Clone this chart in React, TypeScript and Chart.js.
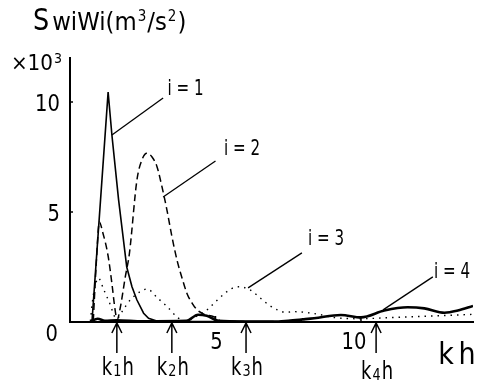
import React, { useEffect, useRef } from "react";
import { Chart, registerables } from "chart.js";
Chart.register(...registerables);

// ---- data (x in kh, y in x10^3 m^3/s^2) ----
const i1X = [0.7, 0.76, 1.31, 1.44, 1.67, 1.95, 2.13, 2.3, 2.53, 2.7, 2.98, 3.5, 5.0, 7.0];
const i1Y = [0.02, 0.1, 10.45, 8.5, 5.55, 2.5, 1.6, 1.0, 0.4, 0.17, 0.05, 0.03, 0.02, 0.02];

const i2X = [0.8, 0.9, 1.01, 1.12, 1.31, 1.44, 1.55, 1.62, 1.72, 1.9, 2.04, 2.3, 2.47, 2.64, 2.82, 2.99, 3.16, 3.33, 3.5, 3.68, 3.85, 4.02, 4.2, 4.37, 4.6, 4.94, 5.2, 6.0];
const i2Y = [0.05, 2.6, 4.55, 4.1, 3.0, 1.75, 0.55, 0.1, 0.6, 2.05, 3.1, 6.45, 7.36, 7.67, 7.5, 7.06, 6.15, 5.1, 3.9, 2.8, 2.0, 1.3, 0.85, 0.55, 0.36, 0.24, 0.05, 0.02];

const i3X = [0.7, 0.8, 0.98, 1.15, 1.35, 1.6, 1.85, 2.07, 2.41, 2.65, 3.0, 3.34, 3.7, 4.0, 4.4, 4.71, 5.0, 5.29, 5.57, 5.8, 6.2, 6.55, 6.84, 7.13, 7.41, 7.7, 8.2, 8.5, 9.1, 10.0, 11.0, 12.0, 13.0, 13.85];
const i3Y = [0.05, 1.2, 2.0, 1.5, 0.9, 0.15, 0.6, 1.0, 1.38, 1.5, 1.1, 0.7, 0.2, 0.05, 0.3, 0.55, 0.92, 1.27, 1.53, 1.6, 1.45, 1.08, 0.77, 0.55, 0.44, 0.47, 0.42, 0.36, 0.2, 0.15, 0.2, 0.25, 0.3, 0.35];

const i4X = [0.7, 0.95, 1.2, 1.6, 2.5, 4.0, 4.4, 4.7, 5.1, 6.0, 7.0, 7.5, 8.0, 8.39, 9.31, 10.0, 10.8, 11.6, 12.18, 12.87, 13.33, 13.85];
const i4Y = [0.02, 0.15, 0.05, 0.08, 0.03, 0.05, 0.33, 0.28, 0.05, 0.02, 0.02, 0.06, 0.12, 0.17, 0.32, 0.21, 0.52, 0.67, 0.62, 0.42, 0.52, 0.73];

const xTickValues = [5, 10];
const xTickLabels = ["5", "10"];
const yTickValues = [10, 5];
const yTickLabels = ["10", "5"];
const originLabel = "0";

const seriesNames = ["i = 1", "i = 2", "i = 3", "i = 4"];
// label anchor [x, y] and leader line [x1, y1, x2, y2] in data units
const labelPos = [[3.97, 10.55], [5.91, 7.86], [8.8, 3.73], [13.13, 2.23]];
const leaderLines = [
  [3.2, 10.18, 1.44, 8.5],
  [5.0, 7.32, 3.2, 5.68],
  [7.97, 3.14, 6.12, 1.55],
  [12.47, 2.05, 10.76, 0.55],
];

const kValues = [1.61, 3.5, 6.05, 10.52];
const kSubscripts = ["1", "2", "3", "4"];

const X_MAX = 13.85;
const Y_MAX = 12;

const FONT = "'DejaVu Sans', sans-serif";

function pts(xs: number[], ys: number[]) {
  return xs.map((x, i) => ({ x, y: ys[i] }));
}

function txt(
  ctx: CanvasRenderingContext2D,
  s: string,
  x: number,
  y: number,
  size: number,
  align: "left" | "center" | "right",
  sx: number,
  baseline: CanvasTextBaseline = "middle"
) {
  ctx.save();
  ctx.font = `${size}px ${FONT}`;
  ctx.textBaseline = baseline;
  ctx.textAlign = "left";
  const w = ctx.measureText(s).width * sx;
  const left = align === "left" ? x : align === "center" ? x - w / 2 : x - w;
  ctx.translate(left, y);
  ctx.scale(sx, 1);
  ctx.fillText(s, 0, 0);
  ctx.restore();
  return w;
}

function measure(ctx: CanvasRenderingContext2D, s: string, size: number, sx: number) {
  ctx.save();
  ctx.font = `${size}px ${FONT}`;
  const w = ctx.measureText(s).width * sx;
  ctx.restore();
  return w;
}

const overlay = {
  id: "overlay",
  afterDraw(chart: any) {
    const ctx = chart.ctx as CanvasRenderingContext2D;
    const xs = chart.scales.x;
    const ys = chart.scales.y;
    const X = (v: number) => xs.getPixelForValue(v);
    const Y = (v: number) => ys.getPixelForValue(v);
    const area = chart.chartArea;
    ctx.save();
    ctx.fillStyle = "#000";
    ctx.strokeStyle = "#000";

    // axis ticks (inward)
    ctx.lineWidth = 1.5;
    xTickValues.forEach((v) => {
      ctx.beginPath();
      ctx.moveTo(X(v), area.bottom);
      ctx.lineTo(X(v), area.bottom - 6);
      ctx.stroke();
    });
    yTickValues.forEach((v) => {
      ctx.beginPath();
      ctx.moveTo(area.left, Y(v));
      ctx.lineTo(area.left + 3, Y(v));
      ctx.stroke();
    });

    // tick labels
    yTickValues.forEach((v, i) => {
      txt(ctx, yTickLabels[i], area.left - 10, Y(v) + 3, 23, "right", 0.85);
    });
    txt(ctx, originLabel, area.left - 12, Y(0) + 13, 23, "right", 0.85);
    xTickValues.forEach((v, i) => {
      const off = xTickLabels[i].length > 1 ? -7 : 1;
      txt(ctx, xTickLabels[i], X(v) + off, area.bottom + 21, 23, "center", 0.85);
    });

    // exponent label
    const ew = txt(ctx, "×10", area.left - 17, area.top + 7, 21, "right", 0.95);
    txt(ctx, "3", area.left - 16, area.top + 1, 14, "left", 0.9);

    // y title
    let tx = 33;
    tx += txt(ctx, "S", tx, 30, 30, "left", 0.85, "alphabetic") + 3;
    tx += txt(ctx, "wiWi(m", tx, 30, 24, "left", 0.95, "alphabetic");
    tx += txt(ctx, "3", tx + 1, 21, 15, "left", 0.9, "alphabetic") + 2;
    tx += txt(ctx, "/s", tx, 30, 24, "left", 0.95, "alphabetic");
    tx += txt(ctx, "2", tx + 1, 21, 15, "left", 0.9, "alphabetic") + 2;
    txt(ctx, ")", tx, 30, 24, "left", 0.95, "alphabetic");

    // x title
    ctx.save();
    (ctx as any).letterSpacing = "5px";
    txt(ctx, "kh", area.right + 7, 364, 30, "right", 0.9, "alphabetic");
    ctx.restore();

    // series labels + leader lines
    ctx.lineWidth = 1.3;
    seriesNames.forEach((s, i) => {
      txt(ctx, s, X(labelPos[i][0]), Y(labelPos[i][1]), 21, "center", 0.72);
      const l = leaderLines[i];
      ctx.beginPath();
      ctx.moveTo(X(l[0]), Y(l[1]));
      ctx.lineTo(X(l[2]), Y(l[3]));
      ctx.stroke();
    });

    // k arrows with k_i h labels
    ctx.lineWidth = 1.5;
    kValues.forEach((k, i) => {
      const px = X(k);
      const top = area.bottom + 1;
      ctx.beginPath();
      ctx.moveTo(px, top);
      ctx.lineTo(px, top + 30);
      ctx.moveTo(px - 5, top + 10);
      ctx.lineTo(px, top);
      ctx.lineTo(px + 5, top + 10);
      ctx.stroke();
      const base = 375 + (i === 3 ? 4 : 0);
      const wk = measure(ctx, "k", 25, 0.72);
      const ws = measure(ctx, kSubscripts[i], 16, 0.8);
      const wh = measure(ctx, "h", 25, 0.72);
      const total = wk + ws + wh + 2;
      let lx = px + 1 - total / 2;
      lx += txt(ctx, "k", lx, base, 25, "left", 0.72, "alphabetic") + 1;
      lx += txt(ctx, kSubscripts[i], lx, base + 1, 16, "left", 0.8, "alphabetic") + 1;
      txt(ctx, "h", lx, base, 25, "left", 0.72, "alphabetic");
    });
    ctx.restore();
  },
};

export default function App() {
  const ref = useRef<HTMLCanvasElement | null>(null);
  useEffect(() => {
    document.body.style.margin = "0";
    const canvas = ref.current!;
    const chart = new Chart(canvas, {
      type: "line",
      data: {
        datasets: [
          {
            label: "i=1",
            data: pts(i1X, i1Y),
            borderColor: "#000",
            borderWidth: 1.6,
            pointRadius: 0,
            tension: 0,
          },
          {
            label: "i=2",
            data: pts(i2X, i2Y),
            borderColor: "#000",
            borderWidth: 1.5,
            borderDash: [7, 4],
            pointRadius: 0,
            cubicInterpolationMode: "monotone",
          },
          {
            label: "i=3",
            data: pts(i3X, i3Y),
            borderColor: "#000",
            borderWidth: 1.4,
            borderDash: [1.5, 5],
            pointRadius: 0,
            cubicInterpolationMode: "monotone",
          },
          {
            label: "i=4",
            data: pts(i4X, i4Y),
            borderColor: "#000",
            borderWidth: 2.6,
            pointRadius: 0,
            cubicInterpolationMode: "monotone",
          },
        ],
      } as any,
      options: {
        responsive: false,
        animation: false,
        layout: { padding: { left: 70, right: 4, top: 58, bottom: 59 } },
        plugins: { legend: { display: false }, tooltip: { enabled: false } },
        scales: {
          x: {
            type: "linear",
            min: 0,
            max: X_MAX,
            ticks: { display: false },
            grid: { display: false, drawTicks: false },
            border: { display: true, color: "#000", width: 2 },
          },
          y: {
            type: "linear",
            min: 0,
            max: Y_MAX,
            ticks: { display: false },
            grid: { display: false, drawTicks: false },
            border: { display: true, color: "#000", width: 2 },
          },
        },
      },
      plugins: [overlay],
    });
    return () => chart.destroy();
  }, []);
  return <canvas ref={ref} width={477} height={381} style={{ display: "block" }} />;
}
